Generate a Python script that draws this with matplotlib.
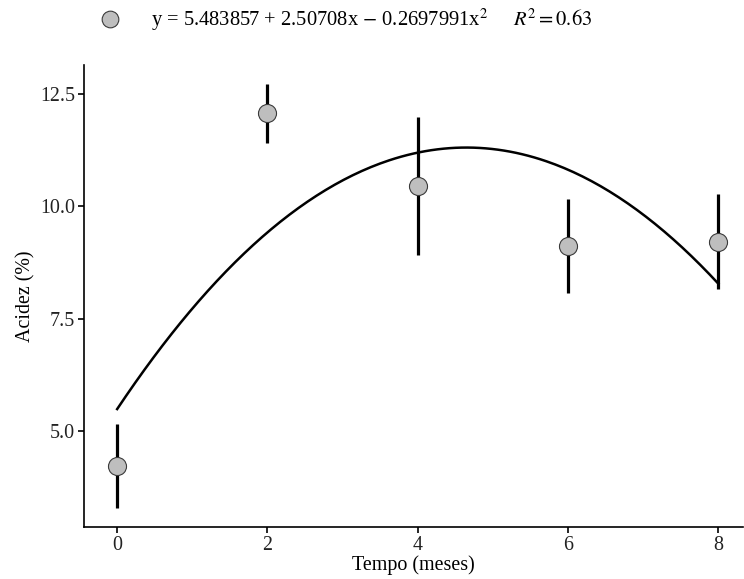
import numpy as np
import matplotlib.pyplot as plt
from matplotlib.lines import Line2D

# Data.
tempo = [0, 2, 4, 6, 8]
acidez = [4.22, 12.07, 10.45, 9.11, 9.20]
erro_inf = [3.29, 11.41, 8.92, 8.06, 8.15]
erro_sup = [5.15, 12.72, 11.98, 10.17, 10.27]
# Coefficients of the fitted quadratic shown in the legend.
coef = [5.483857, 2.50708, -0.2697991]

plt.rcParams['font.family'] = ['Liberation Serif', 'DejaVu Serif']
plt.rcParams['mathtext.fontset'] = 'stix'

fig = plt.figure(figsize=(7.44, 5.79), dpi=100)
ax = fig.add_axes([0.113, 0.09, 0.885, 0.798])

# Fitted curve.
xs = np.linspace(0, 8, 200)
ys = coef[0] + coef[1] * xs + coef[2] * xs ** 2
ax.plot(xs, ys, color='black', lw=1.8, zorder=2)

# Error bars without caps.
y = np.array(acidez)
yerr = [y - np.array(erro_inf), np.array(erro_sup) - y]
ax.errorbar(tempo, acidez, yerr=yerr, fmt='none', ecolor='black', elinewidth=2.3, capsize=0, zorder=3)
ax.plot(tempo, acidez, 'o', ms=13, mfc='#bebebe', mec='#3a3a3a', mew=0.8, zorder=4)

ax.set_xlim(-0.44, 8.32)
ax.set_ylim(2.86, 13.15)
ax.set_xticks([0, 2, 4, 6, 8])
ax.set_yticks([5.0, 7.5, 10.0, 12.5])
ax.set_yticklabels(['5.0', '7.5', '10.0', '12.5'])
ax.tick_params(labelsize=14.4, length=4, width=1.2, colors='black', labelcolor='#222222', pad=2.5)
ax.spines['top'].set_visible(False)
ax.spines['right'].set_visible(False)
ax.spines['left'].set_linewidth(1.2)
ax.spines['bottom'].set_linewidth(1.2)
ax.set_xlabel('Tempo (meses)', fontsize=14.4, labelpad=0)
ax.set_ylabel('Acidez (%)', fontsize=14.4, labelpad=3)

# Legend at the top.
handle = Line2D([], [], marker='o', ls='none', ms=12, mfc='#bebebe', mec='#3a3a3a', mew=0.8)
label = r'y = 5.483857 + 2.50708x $-$ 0.2697991x$^2$     $R^2 = 0.63$'
fig.legend([handle], [label], loc='center left', bbox_to_anchor=(0.0948, 0.9655), frameon=False,
           fontsize=14.8, handletextpad=1.0, handlelength=2.0)

fig.savefig('out.png', dpi=100)
